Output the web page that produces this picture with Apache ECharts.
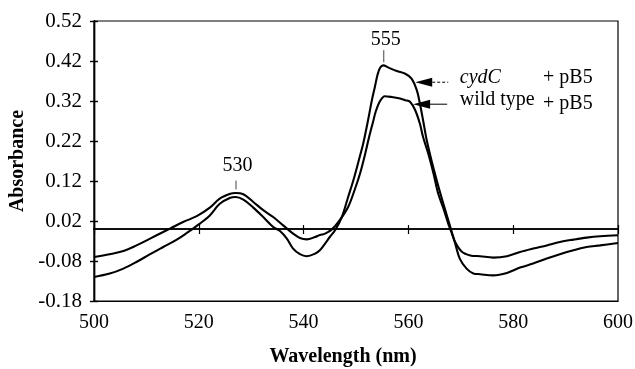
<!DOCTYPE html>
<html>
<head>
<meta charset="utf-8">
<script src="https://cdn.jsdelivr.net/npm/echarts@6/dist/echarts.min.js"></script>
<style>
  html, body { margin: 0; padding: 0; background: #fff; }
  #chart { width: 635px; height: 369px; }
</style>
</head>
<body>
<div id="chart"></div>
<script>
// Difference spectra, cydC + pB5 vs wild type + pB5
const xTicks = [500, 520, 540, 560, 580, 600];
const yTicks = [-0.18, -0.08, 0.02, 0.12, 0.22, 0.32, 0.42, 0.52];

const cydcWl = [500, 503, 505.6, 508.1, 510.7, 513.2, 515.8, 517.7, 520.2, 522.1,
  524, 526, 527, 528.5, 530.4, 532.3, 534.2, 535.5, 536.8, 538,
  539.3, 540.6, 542.2, 543.1, 544.1, 545, 546, 547.3, 548.5, 549.5,
  550.5, 551.4, 552.3, 553, 553.6, 554.1, 554.6, 555.2, 556.2, 557.8,
  559.4, 560.6, 561.6, 562.2, 562.8, 563.5, 564.4, 565.4, 566.3, 567.2,
  568, 568.9, 569.8, 571.1, 572.4, 573.7, 576.2, 578.8, 581.3, 583.8,
  586.4, 588.9, 591.5, 594, 596.6, 600];
const cydcAbs = [-0.12, -0.1115, -0.099, -0.0825, -0.063, -0.045, -0.0265, -0.01, 0.0135, 0.034,
  0.063, 0.078, 0.08, 0.0735, 0.0535, 0.03, 0.005, -0.005, -0.024, -0.049,
  -0.063, -0.068, -0.0615, -0.053, -0.0365, -0.02, -0.003, 0.03, 0.08, 0.122,
  0.17, 0.215, 0.272, 0.32, 0.355, 0.385, 0.403, 0.409, 0.4035, 0.395,
  0.388, 0.376, 0.347, 0.313, 0.272, 0.222, 0.172, 0.122, 0.08, 0.04,
  0.005, -0.035, -0.074, -0.099, -0.111, -0.113, -0.116, -0.11, -0.0965, -0.0865,
  -0.074, -0.063, -0.053, -0.045, -0.041, -0.035];

const wildWl = [500, 503, 505.6, 508.1, 510.7, 513.2, 514.5, 517, 519.6, 522.1,
  524, 526, 527, 528.5, 530.4, 532.3, 534.2, 536.1, 538, 539.3,
  540.6, 542.2, 543.1, 544.1, 545.4, 546.9, 548.5, 549.8, 550.8, 551.7,
  552.5, 553.2, 553.8, 554.6, 555.5, 556.8, 558.4, 559.4, 560.3, 561.3,
  562.2, 562.8, 563.8, 564.8, 565.7, 566.7, 567.6, 568.2, 568.9, 570.2,
  571.8, 573.7, 576.2, 578.8, 581.3, 583.8, 586.4, 588.9, 591.5, 594,
  596.6, 600];
const wildAbs = [-0.07, -0.063, -0.055, -0.041, -0.024, -0.0075, 0.001, 0.0175, 0.032, 0.0535,
  0.076, 0.088, 0.09, 0.087, 0.0675, 0.047, 0.03, 0.009, -0.0115, -0.0225,
  -0.026, -0.02, -0.015, -0.0115, -0.001, 0.022, 0.055, 0.1, 0.14, 0.185,
  0.23, 0.265, 0.295, 0.32, 0.332, 0.33, 0.326, 0.322, 0.318, 0.297,
  0.263, 0.23, 0.188, 0.138, 0.088, 0.051, 0.0135, -0.0075, -0.032, -0.057,
  -0.066, -0.068, -0.0715, -0.068, -0.0575, -0.049, -0.041, -0.0325, -0.0265, -0.0215,
  -0.018, -0.0155];

// peak labels: text, anchor (wavelength, absorbance), small marker line
const peakNames = ['530', '555'];
const peakAt = [[527.4, 0.158], [555.7, 0.473]];
const peakMark = [[527.1, 0.121, 0.099], [555.3, 0.447, 0.417]];

const FONT = '"Liberation Serif", "Times New Roman", serif';
const black = '#000';

const chart = echarts.init(document.getElementById('chart'), null, { renderer: 'canvas' });

const pairs = (xs, ys) => xs.map((x, i) => [x, ys[i]]);

const baseX = {
  type: 'value',
  min: xTicks[0],
  max: xTicks[xTicks.length - 1],
  interval: 20,
  splitLine: { show: false },
};
const baseY = {
  type: 'value',
  min: yTicks[0],
  max: yTicks[yTicks.length - 1],
  interval: 0.1,
  splitLine: { show: false },
};

chart.setOption({
  animation: false,
  backgroundColor: '#fff',
  grid: {
    left: 94, right: 17, top: 21, bottom: 68,
    show: true, borderColor: black, borderWidth: 1.2,
    backgroundColor: 'transparent',
    outerBoundsMode: 'none',
  },
  xAxis: [
    {
      ...baseX,
      position: 'bottom',
      axisLine: { onZero: false, lineStyle: { color: black, width: 1.2 } },
      axisTick: { show: false },
      axisLabel: { margin: 12, color: black, fontFamily: FONT, fontSize: 20 },
      name: 'Wavelength (nm)',
      nameLocation: 'middle',
      nameGap: 46,
      nameTextStyle: {
        color: black, fontFamily: FONT, fontSize: 20, fontWeight: 'bold',
        padding: [0, 26, 0, 0],
      },
    },
    {
      ...baseX,
      axisLine: { onZero: true, lineStyle: { color: black, width: 1.6 } },
      axisTick: { inside: true, length: 5, lineStyle: { color: black, width: 1.2 } },
      axisLabel: { show: false },
    },
    {
      ...baseX,
      axisLine: { onZero: true, lineStyle: { color: black, width: 1.6 } },
      axisTick: { inside: false, length: 4, lineStyle: { color: black, width: 1.2 } },
      axisLabel: { show: false },
    },
  ],
  yAxis: [
    {
      ...baseY,
      axisLine: { show: true, lineStyle: { color: black, width: 1.4 } },
      axisTick: { length: 4, lineStyle: { color: black, width: 1.4 } },
      axisLabel: {
        margin: 12, color: black, fontFamily: FONT, fontSize: 21,
        formatter: v => v.toFixed(2),
      },
      name: 'Absorbance',
      nameLocation: 'middle',
      nameGap: 66,
      nameTextStyle: { color: black, fontFamily: FONT, fontSize: 20, fontWeight: 'bold' },
    },
    {
      ...baseY,
      position: 'left',
      axisLine: { show: true, lineStyle: { color: black, width: 1.4 } },
      axisTick: { inside: true, length: 4, lineStyle: { color: black, width: 1.4 } },
      axisLabel: { show: false },
    },
  ],
  series: [
    {
      name: 'cydC + pB5',
      type: 'line',
      data: pairs(cydcWl, cydcAbs),
      showSymbol: false,
      smooth: 0.35,
      lineStyle: { color: black, width: 2.1 },
    },
    {
      name: 'wild type + pB5',
      type: 'line',
      data: pairs(wildWl, wildAbs),
      showSymbol: false,
      smooth: 0.35,
      lineStyle: { color: black, width: 2.1 },
    },
  ],
});

// annotations placed through the chart's own coordinate system
const px = p => chart.convertToPixel({ xAxisIndex: 0, yAxisIndex: 0 }, p);
const graphics = [];

peakNames.forEach((t, i) => {
  const p = px(peakAt[i]);
  graphics.push({
    type: 'text', x: p[0], y: p[1],
    style: { text: t, font: '20px ' + FONT, fill: black, textAlign: 'center', textVerticalAlign: 'middle' },
  });
  const m = peakMark[i];
  const a = px([m[0], m[1]]), b = px([m[0], m[2]]);
  graphics.push({
    type: 'line',
    shape: { x1: a[0], y1: a[1], x2: b[0], y2: b[1] },
    style: { stroke: '#444', lineWidth: 1 },
  });
});

function arrow(tip, tail, dashed) {
  const t = px(tip), e = px(tail);
  graphics.push({
    type: 'line',
    shape: { x1: t[0] + 12, y1: t[1], x2: e[0], y2: e[1] },
    style: { stroke: black, lineWidth: 1, lineDash: dashed ? [3, 2] : null },
  });
  graphics.push({
    type: 'polygon',
    shape: { points: [[t[0], t[1]], [t[0] + 17, t[1] - 4.5], [t[0] + 17, t[1] + 4.5]] },
    style: { fill: black },
  });
}
arrow([561.3, 0.367], [567.6, 0.367], true);
arrow([560.9, 0.312], [567.4, 0.312], false);

function label(text, at, italic) {
  const p = px(at);
  graphics.push({
    type: 'text', x: p[0], y: p[1],
    style: {
      text, font: (italic ? 'italic ' : '') + '20px ' + FONT,
      fill: black, textAlign: 'left', textVerticalAlign: 'middle',
    },
  });
}
label('cydC', [569.8, 0.379], true);
label('+ pB5', [585.7, 0.379], false);
label('wild type', [569.8, 0.322], false);
label('+ pB5', [585.7, 0.314], false);

chart.setOption({ graphic: graphics });
</script>
</body>
</html>
